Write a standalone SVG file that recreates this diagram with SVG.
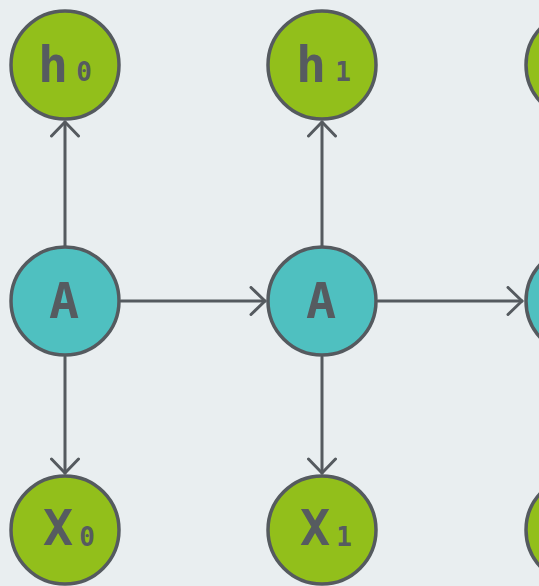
<svg xmlns="http://www.w3.org/2000/svg" width="539" height="586" viewBox="0 0 539 586">
<defs>
<style>
.g{fill:#92bf1b;stroke:#555a5f;stroke-width:3.5}
.t{fill:#4fc0c0;stroke:#555a5f;stroke-width:3.5}
.lbl{font-family:"DejaVu Sans Mono",monospace;font-weight:bold;fill:#565b60;text-anchor:middle}
.big{font-size:50px}
.sub{font-size:26px}
.c{fill:none;stroke:#555a5f;stroke-width:3;stroke-linecap:round;stroke-linejoin:round}
</style>
<marker id="ah" markerWidth="24" markerHeight="30" refX="17" refY="15" orient="auto" markerUnits="userSpaceOnUse">
<polyline points="3,1.5 17,15 3,28.5" fill="none" stroke="#555a5f" stroke-width="3" stroke-linecap="round" stroke-linejoin="round"/>
</marker>
</defs>
<rect width="539" height="586" fill="#e9eef0"/>
<g id="connectors">
<line class="c" x1="65" y1="247" x2="65" y2="122" marker-end="url(#ah)"/>
<line class="c" x1="65" y1="357" x2="65" y2="473" marker-end="url(#ah)"/>
<line class="c" x1="121" y1="301" x2="265" y2="301" marker-end="url(#ah)"/>
<line class="c" x1="322" y1="247" x2="322" y2="122" marker-end="url(#ah)"/>
<line class="c" x1="322" y1="357" x2="322" y2="473" marker-end="url(#ah)"/>
<line class="c" x1="378" y1="301" x2="522" y2="301" marker-end="url(#ah)"/>
</g>
<g id="h0"><circle class="g" cx="65" cy="65" r="54"/><text class="lbl big" x="53" y="82">h</text><text class="lbl sub" x="84" y="81">0</text></g>
<g id="h1"><circle class="g" cx="322" cy="65" r="54"/><text class="lbl big" x="311" y="82">h</text><text class="lbl sub" x="343" y="81">1</text></g>
<g id="h2"><circle class="g" cx="580" cy="65" r="54"/></g>
<g id="A0"><circle class="t" cx="65" cy="301" r="54"/><text class="lbl big" x="64" y="318">A</text></g>
<g id="A1"><circle class="t" cx="322" cy="301" r="54"/><text class="lbl big" x="321" y="318">A</text></g>
<g id="A2"><circle class="t" cx="580" cy="301" r="54"/></g>
<g id="X0"><circle class="g" cx="65" cy="530" r="54"/><text class="lbl big" x="58" y="545">X</text><text class="lbl sub" x="87" y="546">0</text></g>
<g id="X1"><circle class="g" cx="322" cy="530" r="54"/><text class="lbl big" x="315" y="545">X</text><text class="lbl sub" x="344" y="546">1</text></g>
<g id="X2"><circle class="g" cx="580" cy="530" r="54"/></g>
</svg>
